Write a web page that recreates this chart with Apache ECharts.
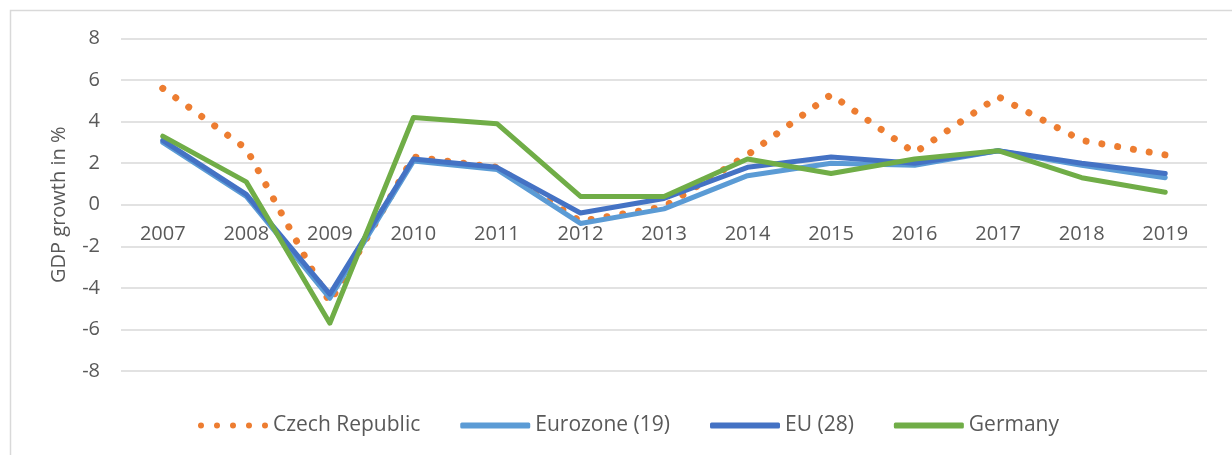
<!DOCTYPE html>
<html>
<head>
<meta charset="utf-8">
<script src="https://cdn.jsdelivr.net/npm/echarts@6/dist/echarts.min.js"></script>
<style>
  html, body { margin: 0; padding: 0; background: #fff; }
  #main { width: 1232px; height: 455px; }
</style>
</head>
<body>
<div id="main"></div>
<script>
var years = ['2007', '2008', '2009', '2010', '2011', '2012', '2013', '2014', '2015', '2016', '2017', '2018', '2019'];
var czech = [5.6, 2.7, -4.7, 2.3, 1.8, -0.8, -0.1, 2.4, 5.3, 2.5, 5.2, 3.1, 2.4];
var eurozone = [3.0, 0.4, -4.5, 2.1, 1.7, -0.9, -0.2, 1.4, 2.0, 1.9, 2.6, 1.9, 1.3];
var eu = [3.1, 0.5, -4.3, 2.2, 1.8, -0.4, 0.3, 1.8, 2.3, 2.0, 2.6, 2.0, 1.5];
var germany = [3.3, 1.1, -5.7, 4.2, 3.9, 0.4, 0.4, 2.2, 1.5, 2.2, 2.6, 1.3, 0.6];

var textColor = '#595959';
var gridColor = '#d9d9d9';
var font = '"Open Sans", "Noto Sans", sans-serif';

// five round dots for the dotted legend entry (70 x 6 box)
var dotsIcon = 'path://M0,3a3,3 0 1,0 6,0a3,3 0 1,0 -6,0z' +
  'M16,3a3,3 0 1,0 6,0a3,3 0 1,0 -6,0z' +
  'M32,3a3,3 0 1,0 6,0a3,3 0 1,0 -6,0z' +
  'M48,3a3,3 0 1,0 6,0a3,3 0 1,0 -6,0z' +
  'M64,3a3,3 0 1,0 6,0a3,3 0 1,0 -6,0z';

var chart = echarts.init(document.getElementById('main'));

function lineSeries(name, data, color, dotted) {
  return {
    name: name,
    type: 'line',
    data: data,
    symbol: 'none',
    color: color,
    lineStyle: dotted
      ? { color: color, width: 7, type: [0.01, 16], cap: 'round' }
      : { color: color, width: 5, cap: 'round', join: 'round' },
    emphasis: { disabled: true }
  };
}

var option = {
  animation: false,
  textStyle: { fontFamily: font, color: textColor },
  graphic: [{
    type: 'rect',
    shape: { x: 10.5, y: 10.5, width: 1240, height: 460 },
    style: { fill: 'none', stroke: gridColor, lineWidth: 1.5 },
    silent: true
  }],
  grid: { left: 121, right: 25, top: 38.5, bottom: 84 },
  legend: {
    left: 193,
    top: 410,
    itemWidth: 70,
    itemHeight: 6,
    itemGap: 40,
    textStyle: { fontFamily: font, fontSize: 21, color: textColor },
    data: [
      { name: 'Czech Republic', icon: dotsIcon },
      { name: 'Eurozone (19)', icon: 'roundRect' },
      { name: 'EU (28)', icon: 'roundRect' },
      { name: 'Germany', icon: 'roundRect' }
    ]
  },
  xAxis: {
    type: 'category',
    data: years,
    boundaryGap: true,
    offset: -166.25,
    axisLine: { show: false, onZero: false },
    axisTick: { show: false },
    axisLabel: { fontFamily: font, fontSize: 20, color: textColor, margin: 20 }
  },
  yAxis: {
    type: 'value',
    min: -8,
    max: 8,
    interval: 2,
    name: 'GDP growth in %',
    nameLocation: 'middle',
    nameGap: 52,
    nameTextStyle: { fontFamily: font, fontSize: 20, color: textColor },
    axisLine: { show: false },
    axisTick: { show: false },
    axisLabel: { fontFamily: font, fontSize: 20, color: textColor, margin: 21 },
    splitLine: { lineStyle: { color: gridColor, width: 1.5 } }
  },
  series: [
    lineSeries('Czech Republic', czech, '#ED7D31', true),
    lineSeries('Eurozone (19)', eurozone, '#5B9BD5', false),
    lineSeries('EU (28)', eu, '#4472C4', false),
    lineSeries('Germany', germany, '#70AD47', false)
  ]
};

chart.setOption(option);
</script>
</body>
</html>
